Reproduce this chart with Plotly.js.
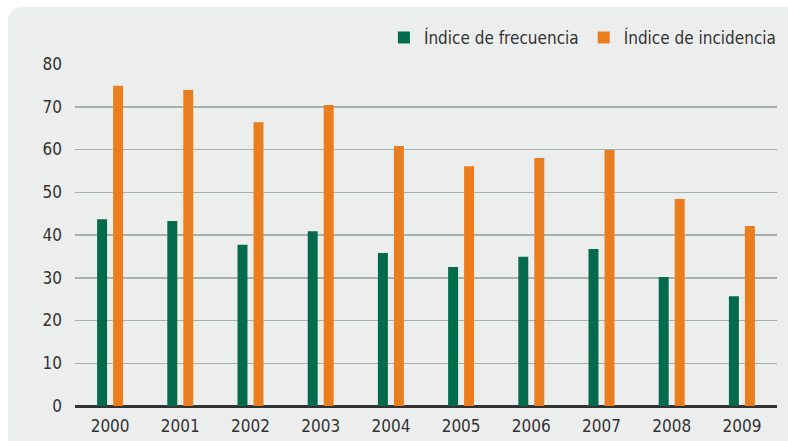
<!DOCTYPE html>
<html>
<head>
<meta charset="utf-8">
<script src="https://cdn.plot.ly/plotly-3.0.1.min.js"></script>
<style>
html,body{margin:0;padding:0;background:#ffffff;overflow:hidden;}
#card{position:absolute;left:8px;top:7px;width:800px;height:450px;background:#eceeed;border-radius:14px;}
#chart{position:absolute;left:0;top:0;width:788px;height:441px;}
</style>
</head>
<body>
<div id="card"></div>
<div id="chart"></div>
<script>
const years = ['2000','2001','2002','2003','2004','2005','2006','2007','2008','2009'];
const frecuencia = [43.7, 43.3, 37.7, 40.9, 35.8, 32.5, 34.9, 36.7, 30.2, 25.7];
const incidencia = [74.9, 73.9, 66.4, 70.4, 60.8, 56.1, 58.0, 59.9, 48.4, 42.1];
const yTicks = [0,10,20,30,40,50,60,70,80];

const FONT = "'DejaVu Sans Condensed','DejaVu Sans',sans-serif";
const F = (s) => ({family:FONT, size:s, color:'#333333', stretch:'condensed'});

const traces = [
  {type:'bar', name:'Índice de frecuencia', x:years, y:frecuencia,
   width:0.142, offset:-0.185, marker:{color:'#036b4b'}},
  {type:'bar', name:'Índice de incidencia', x:years, y:incidencia,
   width:0.142, offset:0.043, marker:{color:'#ea7e1f'}}
];

const layout = {
  width:788, height:441,
  paper_bgcolor:'rgba(0,0,0,0)', plot_bgcolor:'rgba(0,0,0,0)',
  margin:{l:75, r:11, t:64, b:35},
  barmode:'overlay',
  font:F(16),
  showlegend:true,
  legend:{orientation:'h', x:1.007, xanchor:'right', yref:'container', y:0.914, yanchor:'middle',
          font:F(17), bgcolor:'rgba(0,0,0,0)', itemwidth:30, traceorder:'normal'},
  xaxis:{type:'category', range:[-0.5,9.5], showgrid:false,
         showline:true, linecolor:'#333333', linewidth:2,
         ticks:'', ticklabelstandoff:4, tickfont:F(17), fixedrange:true},
  yaxis:{range:[0,80], tickvals:yTicks, ticktext:yTicks.map(String),
         showgrid:true, gridcolor:'#a3b3ab', gridwidth:1.5,
         zeroline:true, zerolinecolor:'#333333', zerolinewidth:2,
         showline:false, ticks:'', ticklabelstandoff:12,
         tickfont:F(17), fixedrange:true}
};

Plotly.newPlot('chart', traces, layout, {displayModeBar:false, staticPlot:true});
</script>
</body>
</html>
